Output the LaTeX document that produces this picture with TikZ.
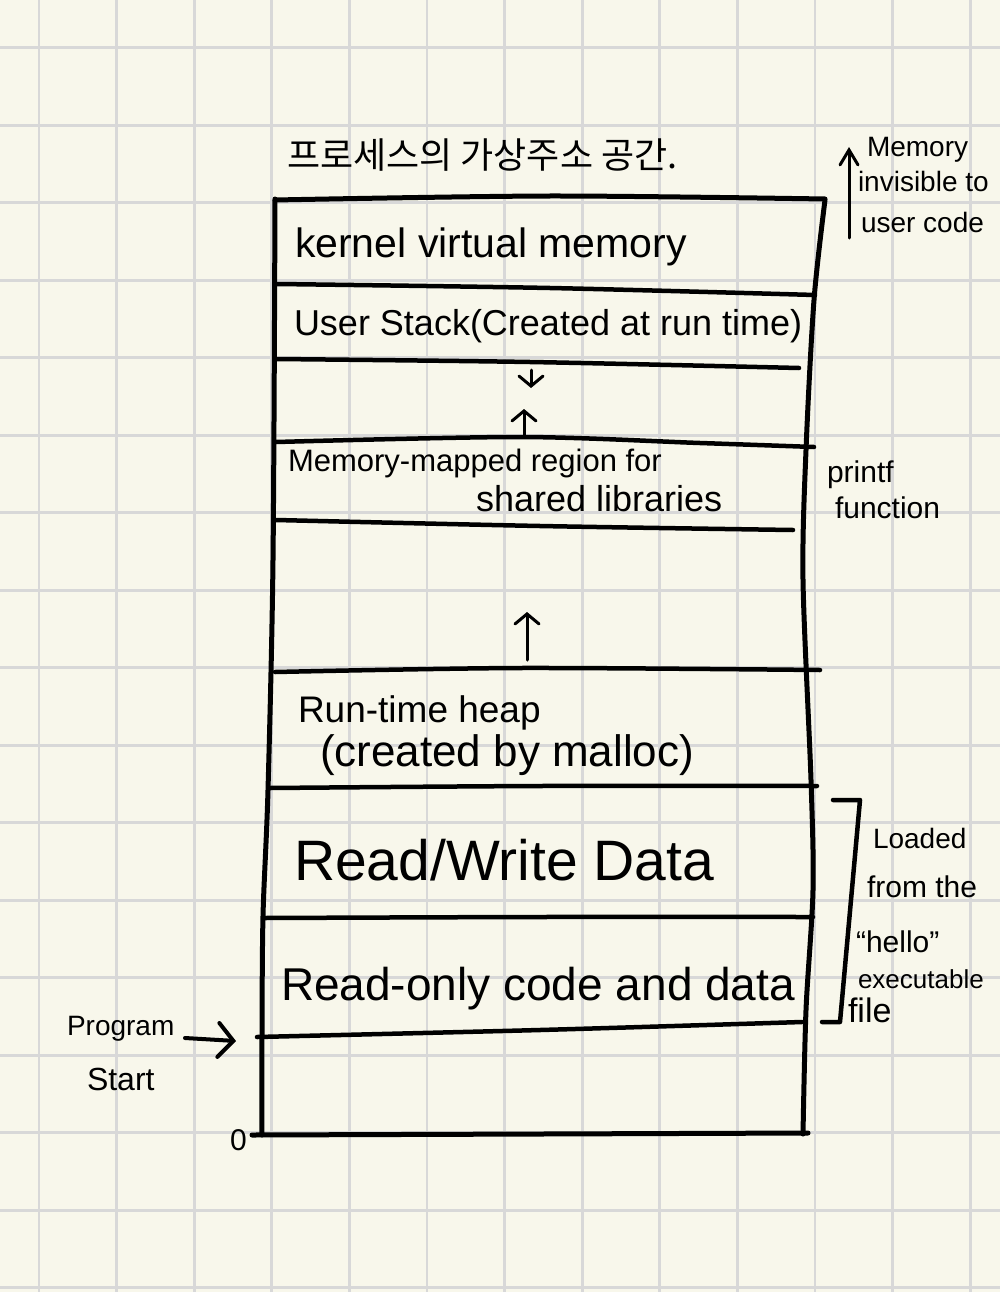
\documentclass[tikz,border=0pt]{standalone}
\usepackage{fontspec}
\setmainfont{Liberation Sans}
\newfontfamily\kofont{Noto Sans CJK KR}
\usetikzlibrary{arrows.meta}
\definecolor{paper}{RGB}{248,247,235}
\definecolor{gridc}{RGB}{216,216,216}
\newcommand{\fs}[1]{\fontsize{#1}{#1}\selectfont}
\begin{document}
\begin{tikzpicture}[x=1pt,y=-1pt,
  ink/.style={line width=4.5pt, line cap=round, line join=round},
  edgeline/.style={line width=5pt, line cap=round, line join=round},
  lbl/.style={anchor=base west, inner sep=0pt, outer sep=0pt},
  gridline/.style={gridc, line width=2.7pt},
  smallarrow/.style={line width=3pt, line cap=round, -{Straight Barb[length=10pt,width=24pt,line cap=round]}},
  notearrow/.style={line width=3pt, line cap=round, -{Straight Barb[length=15pt,width=18pt,line cap=round]}},
  startarrow/.style={line width=4pt, line cap=round, -{Straight Barb[length=15pt,width=34pt,line cap=round]}},
]
\fill[paper] (0,0) rectangle (1000,1292);
\useasboundingbox (0,0) rectangle (1000,1292);
\foreach \k in {0,...,12} \draw[gridline] (39+77.6*\k,0) -- (39+77.6*\k,1292);
\foreach \k in {0,...,16} \draw[gridline] (0,47.7+77.5*\k) -- (1000,47.7+77.5*\k);

% title
\node[lbl, font={\kofont\fs{36}}] (title) at (287,169) {프로세스의 가상주소 공간.};

% outer edges
\draw[edgeline] plot[smooth, tension=0.5] coordinates {(275,199) (273,560) (268,790) (263,916) (262,1036) (262,1135)};
\draw[edgeline] plot[smooth, tension=0.5] coordinates {(825,200) (814,300) (806,450) (803,580) (811,780) (813,890) (806,1010) (803,1134)};

% horizontal separators
\draw[edgeline] plot[smooth] coordinates {(275,200) (550,196) (825,199)};
\draw[ink] plot[smooth] coordinates {(277,284) (550,288) (815,295)};
\draw[ink] plot[smooth] coordinates {(276,359) (530,362) (799,368)};
\draw[ink] plot[smooth] coordinates {(276,442) (520,437) (700,443) (814,447)};
\draw[ink] plot[smooth] coordinates {(276,520) (540,526) (793,530)};
\draw[ink] plot[smooth] coordinates {(275,672) (520,668) (820,670)};
\draw[ink] plot[smooth] coordinates {(270,788) (540,786) (817,786)};
\draw[ink] plot[smooth] coordinates {(264,918) (540,917) (813,917)};
\draw[ink] plot[smooth] coordinates {(257,1037) (540,1030) (802,1022)};
\draw[edgeline] plot[smooth] coordinates {(252,1135) (540,1134) (808,1133)};

% region labels
\node[lbl, font=\fs{41}] (kernel) at (295,257) {kernel virtual memory};
\node[lbl, font=\fs{36}] (ustack) at (294,335) {User Stack(Created at run time)};
\node[lbl, font=\fs{31}] (mm1) at (288,471) {Memory-mapped region for};
\node[lbl, font=\fs{36}] (mm2) at (476,511) {shared libraries};
\node[lbl, font=\fs{37}] (heap1) at (298,722) {Run-time heap};
\node[lbl, font=\fs{44}] (heap2) at (320,766) {(created by malloc)};
\node[lbl, font=\fs{57}] (rw) at (294,880) {Read/Write Data};
\node[lbl, font=\fs{46}] (ro) at (281,1000) {Read-only code and data};

% growth arrows
\coordinate (sdA) at (531,370); \coordinate (sdB) at (531,388);
\draw[smallarrow] (sdA) -- (sdB);
\coordinate (suA) at (524,437); \coordinate (suB) at (524,409);
\draw[smallarrow] (suA) -- (suB);
\coordinate (huA) at (527,660); \coordinate (huB) at (527,612);
\draw[smallarrow] (huA) -- (huB);

% right-top note
\coordinate (nA) at (849,238); \coordinate (nB) at (849,147);
\draw[notearrow] (nA) -- (nB);
\node[lbl, font=\fs{28}] (m1) at (867,157) {Memory};
\node[lbl, font=\fs{28}] (m2) at (858,192) {invisible to};
\node[lbl, font=\fs{28}] (m3) at (861,232) {user code};

% printf note
\node[lbl, font=\fs{30}] (pf1) at (827,482) {printf};
\node[lbl, font=\fs{30}] (pf2) at (835,518) {function};

% bracket and note
\draw[ink] (833,800) -- (860,800) -- (840,1022) -- (822,1022);
\node[lbl, font=\fs{28}] (ld1) at (873,848) {Loaded};
\node[lbl, font=\fs{30}] (ld2) at (867,897) {from the};
\node[lbl, font=\fs{30}] (ld3) at (856,952) {“hello”};
\node[lbl, font=\fs{26}] (ld4) at (858,988) {executable};
\node[lbl, font=\fs{34}] (ld5) at (848,1022) {file};

% program start
\node[lbl, font=\fs{28}] (pg1) at (67,1035) {Program};
\node[lbl, font=\fs{32}] (pg2) at (87,1090) {Start};
\coordinate (psA) at (185,1038); \coordinate (psB) at (236,1041);
\draw[startarrow] (psA) -- (psB);
\node[lbl, font=\fs{30}] (zero) at (230,1150) {0};
\end{tikzpicture}
\end{document}
